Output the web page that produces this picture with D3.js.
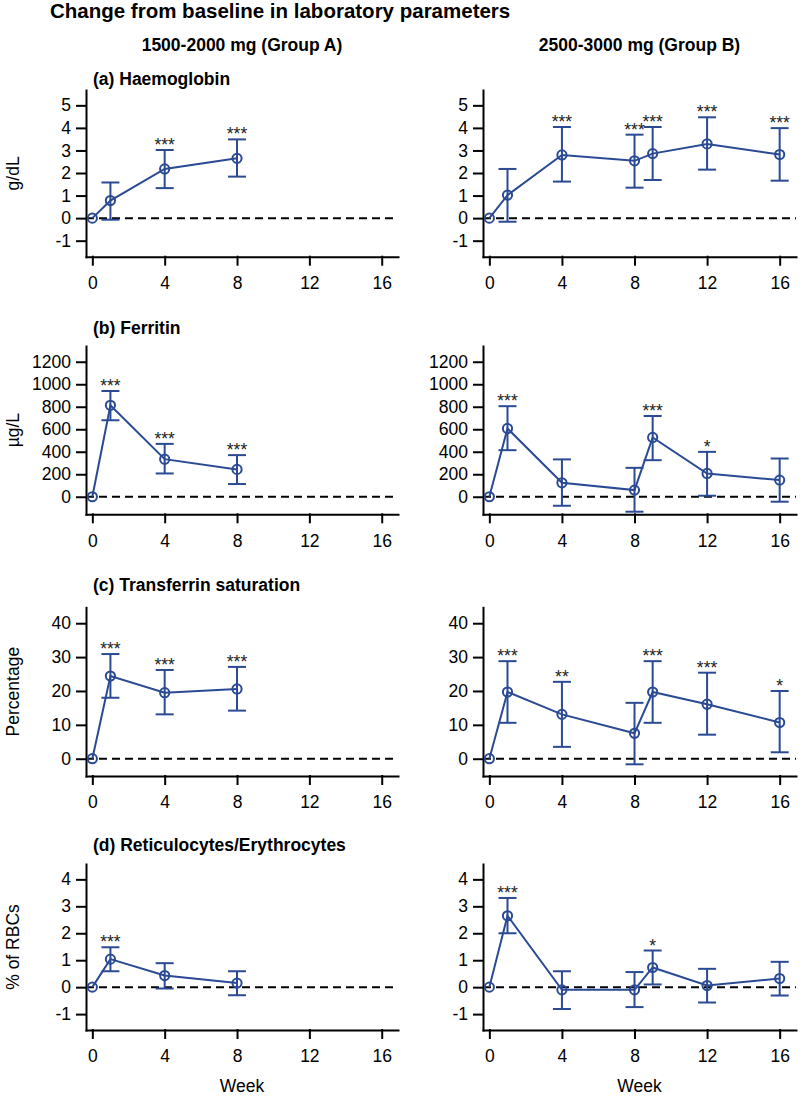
<!DOCTYPE html>
<html><head><meta charset="utf-8">
<script src="https://cdn.jsdelivr.net/npm/d3@7"></script>
<style>body{margin:0;background:#fff} text{font-family:"Liberation Sans",Arial,sans-serif}</style>
</head><body><svg id="c" width="800" height="1096"></svg>
<script>
const weeksA = [0,1,4,8];
const weeksB = [0,1,4,8,9,12,16];
const xTicks = [0,4,8,12,16];
// Haemoglobin
const hbA = [0,0.78,2.18,2.65];
const hbA_lo = [null,-0.07,1.33,1.84];
const hbA_hi = [null,1.58,3.02,3.49];
const hbA_sig = ["","","***","***"];
const hbB = [0,1.02,2.8,2.54,2.86,3.29,2.82];
const hbB_lo = [null,-0.16,1.62,1.35,1.69,2.15,1.66];
const hbB_hi = [null,2.18,4.04,3.7,4.04,4.47,3.99];
const hbB_sig = ["","","***","***","***","***","***"];
// Ferritin
const feA = [0,813,334,243];
const feA_lo = [null,680,207,113];
const feA_hi = [null,940,470,370];
const feA_sig = ["","***","***","***"];
const feB = [0,607,124,59,527,207,148];
const feB_lo = [null,414,-80,-133,325,9,-44];
const feB_hi = [null,805,332,257,718,399,340];
const feB_sig = ["","***","","","***","*",""];
// Transferrin saturation
const tsA = [0,24.4,19.5,20.6];
const tsA_lo = [null,18.0,13.1,14.2];
const tsA_hi = [null,30.9,26.2,27.1];
const tsA_sig = ["","***","***","***"];
const tsB = [0,19.7,13.1,7.5,19.7,16.1,10.7];
const tsB_lo = [null,10.6,3.5,-1.65,10.6,7.1,1.9];
const tsB_hi = [null,28.8,22.7,16.5,28.8,25.4,20.0];
const tsB_sig = ["","***","**","","***","***","*"];
// Reticulocytes/Erythrocytes
const rtA = [0,1.04,0.43,0.15];
const rtA_lo = [null,0.59,-0.05,-0.3];
const rtA_hi = [null,1.48,0.89,0.59];
const rtA_sig = ["","***","",""];
const rtB = [0,2.65,-0.1,-0.1,0.73,0.06,0.32];
const rtB_lo = [null,2.0,-0.81,-0.74,0.1,-0.57,-0.31];
const rtB_hi = [null,3.31,0.59,0.56,1.36,0.68,0.94];
const rtB_sig = ["","***","","","*","",""];

const mainTitle = "Change from baseline in laboratory parameters";
const groupTitles = ["1500-2000 mg (Group A)","2500-3000 mg (Group B)"];
const panelTitles = ["(a) Haemoglobin","(b) Ferritin","(c) Transferrin saturation","(d) Reticulocytes/Erythrocytes"];
const yLabels = ["g/dL","µg/L","Percentage","% of RBCs"];
const xLabel = "Week";
const yTicks = [[-1,0,1,2,3,4,5],[0,200,400,600,800,1000,1200],[0,10,20,30,40],[-1,0,1,2,3,4]];
const yDomains = [[-1.71,5.68],[-156,1340],[-5.1,44.7],[-1.59,4.57]];
const xDomain = [-0.35,16.9];

const seriesByRow = [
  [[weeksA,hbA,hbA_lo,hbA_hi,hbA_sig],[weeksB,hbB,hbB_lo,hbB_hi,hbB_sig]],
  [[weeksA,feA,feA_lo,feA_hi,feA_sig],[weeksB,feB,feB_lo,feB_hi,feB_sig]],
  [[weeksA,tsA,tsA_lo,tsA_hi,tsA_sig],[weeksB,tsB,tsB_lo,tsB_hi,tsB_sig]],
  [[weeksA,rtA,rtA_lo,rtA_hi,rtA_sig],[weeksB,rtB,rtB_lo,rtB_hi,rtB_sig]]
];

// layout
const rowTop = [90,346,607.3,864];
const rowBot = [256.7,514.3,776,1030];
const titleBase = [85,334,591,851];
const colRange = [[86,398],[483,796]];
const blue = "#2a4a94";

const svg = d3.select("#c");
svg.append("text").attr("x",50).attr("y",18).attr("font-size",20.5).attr("font-weight","bold").text(mainTitle);
groupTitles.forEach((t,c)=>{
  svg.append("text").attr("x",(colRange[c][0]+colRange[c][1])/2).attr("y",51)
    .attr("text-anchor","middle").attr("font-size",17.5).attr("font-weight","bold").text(t);
});

for(let r=0;r<4;r++){
  svg.append("text").attr("x",93).attr("y",titleBase[r]).attr("font-size",17.5).attr("font-weight","bold").text(panelTitles[r]);
  svg.append("text").attr("transform",`translate(19,${(rowTop[r]+rowBot[r])/2}) rotate(-90)`)
    .attr("text-anchor","middle").attr("font-size",17.5).text(yLabels[r]);
  for(let c=0;c<2;c++){
    const x = d3.scaleLinear().domain(xDomain).range(colRange[c]);
    const y = d3.scaleLinear().domain(yDomains[r]).range([rowBot[r],rowTop[r]]);
    const g = svg.append("g");
    g.append("line").attr("x1",x(xDomain[0])).attr("x2",x(xDomain[1])).attr("y1",y(0)).attr("y2",y(0))
      .attr("stroke","#000").attr("stroke-width",2).attr("stroke-dasharray","8,5");
    const ya = g.append("g").attr("transform",`translate(${colRange[c][0]},0)`)
      .call(d3.axisLeft(y).tickValues(yTicks[r]).tickSize(9).tickPadding(6).tickSizeOuter(0).tickFormat(d=>String(d)));
    const xa = g.append("g").attr("transform",`translate(0,${rowBot[r]})`)
      .call(d3.axisBottom(x).tickValues(xTicks).tickSize(8).tickPadding(12).tickSizeOuter(0).tickFormat(d=>String(d)));
    [ya,xa].forEach(a=>{
      a.selectAll("path,line").attr("stroke","#000").attr("stroke-width",2).attr("stroke-linecap","square");
      a.selectAll("text").attr("font-size",17.5).attr("fill","#000").style("font-family",'"Liberation Sans",Arial,sans-serif');
    });
    if(r===3){
      g.append("text").attr("x",(colRange[c][0]+colRange[c][1])/2).attr("y",1092)
        .attr("text-anchor","middle").attr("font-size",17.5).text(xLabel);
    }
    const [wk,m,lo,hi,sig] = seriesByRow[r][c];
    const pts = wk.map((w,i)=>({w,m:m[i],lo:lo[i],hi:hi[i],s:sig[i]}));
    g.append("path").datum(pts).attr("fill","none").attr("stroke",blue).attr("stroke-width",2)
      .attr("d",d3.line().x(d=>x(d.w)).y(d=>y(d.m)));
    const eb = g.selectAll(".eb").data(pts.filter(d=>d.lo!==null)).enter().append("g");
    eb.append("line").attr("x1",d=>x(d.w)).attr("x2",d=>x(d.w)).attr("y1",d=>y(d.lo)).attr("y2",d=>y(d.hi))
      .attr("stroke",blue).attr("stroke-width",2);
    eb.append("line").attr("x1",d=>x(d.w)-9).attr("x2",d=>x(d.w)+9).attr("y1",d=>y(d.lo)).attr("y2",d=>y(d.lo))
      .attr("stroke",blue).attr("stroke-width",2);
    eb.append("line").attr("x1",d=>x(d.w)-9).attr("x2",d=>x(d.w)+9).attr("y1",d=>y(d.hi)).attr("y2",d=>y(d.hi))
      .attr("stroke",blue).attr("stroke-width",2);
    g.selectAll(".pt").data(pts).enter().append("circle").attr("cx",d=>x(d.w)).attr("cy",d=>y(d.m)).attr("r",4.6)
      .attr("fill","none").attr("stroke",blue).attr("stroke-width",2);
    g.selectAll(".sig").data(pts.filter(d=>d.s)).enter().append("text").attr("x",d=>x(d.w)).attr("y",d=>y(d.hi)+1)
      .attr("text-anchor","middle").attr("font-size",17.5).attr("fill","#222").text(d=>d.s);
  }
}
</script></body></html>
